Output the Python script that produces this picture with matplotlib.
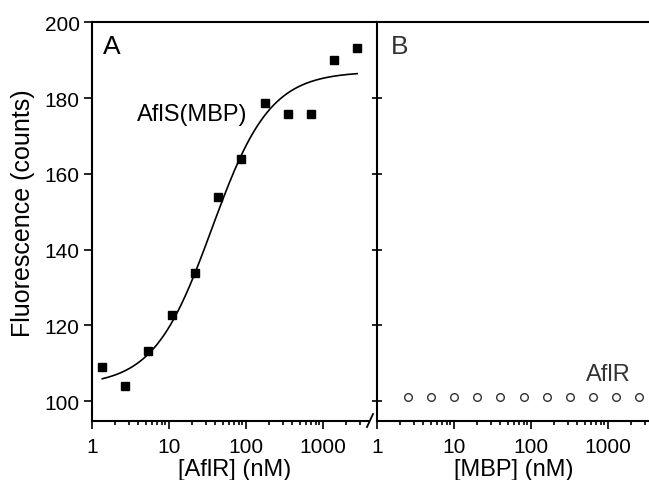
import numpy as np
import matplotlib
matplotlib.use('Agg')
import matplotlib.pyplot as plt
from matplotlib.ticker import FixedLocator, NullFormatter
from matplotlib.lines import Line2D

plt.rcParams['font.family'] = ['Liberation Sans', 'DejaVu Sans']

# Panel A data: AflS(MBP) titrated with AflR
aflr_nM = [1.36, 2.7, 5.4, 10.9, 21.7, 43.4, 86.8, 174, 347, 694, 1389, 2778]
fluor_A = [108.9, 104.0, 113.3, 122.8, 133.8, 154.0, 164.0, 178.6, 175.9, 175.9, 190.1, 193.3]

# Panel B data: AflR titrated with MBP
mbp_nM = [2.5, 5, 10, 20, 40, 80, 160, 320, 640, 1280, 2560]
fluor_B = [101, 101, 101, 101, 101, 101, 101, 101, 101, 101, 101]

# Hill fit parameters (panel A)
F_MIN = 104.0
F_MAX = 187.0
KD = 36.0
HILL_N = 1.15

x_major = [1, 10, 100, 1000]
x_major_labels = ['1', '10', '100', '1000']
y_major = [100, 120, 140, 160, 180, 200]

W, H = 649, 481
fig = plt.figure(figsize=(W / 100, H / 100), dpi=100)
bottom = 1 - 421.7 / H
height = (421.7 - 23.3) / H
axA = fig.add_axes([92 / W, bottom, (377 - 92) / W, height])
axB = fig.add_axes([377 / W, bottom, (W - 377) / W + 0.002, height])

lw = 1.5
minorA = [m * d for d in (1, 10, 100, 1000) for m in range(2, 10) if m * d <= 3000]
minorB = [m * d for d in (1, 10, 100, 1000) for m in range(2, 10) if m * d <= 3000]

for ax in (axA, axB):
    ax.set_xscale('log')
    ax.set_ylim(94.8, 200)
    for s in ax.spines.values():
        s.set_linewidth(lw)
    ax.spines['right'].set_visible(False)
    ax.xaxis.set_major_locator(FixedLocator(x_major))
    ax.set_xticklabels(x_major_labels)
    ax.tick_params(axis='x', which='major', direction='out', length=6, width=1.2,
                   labelsize=15, pad=6)
    ax.tick_params(axis='x', which='minor', direction='out', length=3, width=1.2)
    ax.xaxis.set_minor_formatter(NullFormatter())

axA.set_xlim(1, 10 ** ((377 - 92) / 77))
axB.set_xlim(1, 10 ** ((W - 377) / 77 + 0.002 * W / 77))
axA.xaxis.set_minor_locator(FixedLocator(minorA))
axB.xaxis.set_minor_locator(FixedLocator(minorB))

# Panel A y axis
axA.yaxis.set_major_locator(FixedLocator(y_major))
axA.tick_params(axis='y', direction='out', length=6, width=1.2, labelsize=15, pad=3)
axA.set_ylabel('Fluorescence (counts)', fontsize=18)
axA.yaxis.set_label_coords(-0.201, 0.524)
axA.spines['bottom'].set_bounds(1, 3850)

# Panel B y axis: ticks crossing the divider, no labels
axB.yaxis.set_major_locator(FixedLocator(y_major[:-1]))
axB.tick_params(axis='y', direction='inout', length=7, width=1.2, labelleft=False)

# Data panel A
axA.plot(aflr_nM, fluor_A, linestyle='none', marker='s', markersize=6,
         color='black', clip_on=False, zorder=3)
xfit = np.geomspace(aflr_nM[0], aflr_nM[-1], 300)
yfit = F_MIN + (F_MAX - F_MIN) * xfit ** HILL_N / (KD ** HILL_N + xfit ** HILL_N)
axA.plot(xfit, yfit, color='black', linewidth=1.2)

# Data panel B
axB.plot(mbp_nM, fluor_B, linestyle='none', marker='o', markersize=5.5,
         markerfacecolor='white', markeredgecolor='#333333', markeredgewidth=1.0,
         clip_on=False, zorder=3)

axA.set_xlabel('[AflR] (nM)', fontsize=17, labelpad=1)
axB.set_xlabel('[MBP] (nM)', fontsize=17, labelpad=1)

axA.text(0.069, 0.941, 'A', transform=axA.transAxes, fontsize=19,
         ha='center', va='center')
axB.text(0.081, 0.941, 'B', transform=axB.transAxes, fontsize=19,
         ha='center', va='center', color='#333333')
axA.text(0.353, 0.770, 'AflS(MBP)', transform=axA.transAxes, fontsize=17,
         ha='center', va='center')
axB.text(0.845, 0.117, 'AflR', transform=axB.transAxes, fontsize=17,
         ha='center', va='center', color='#333333')

# Axis break mark
brk = Line2D([367 / W, 373 / W], [1 - 428 / H, 1 - 415 / H], transform=fig.transFigure,
             color='black', linewidth=1.3)
fig.add_artist(brk)

fig.savefig('out.png', dpi=100)
